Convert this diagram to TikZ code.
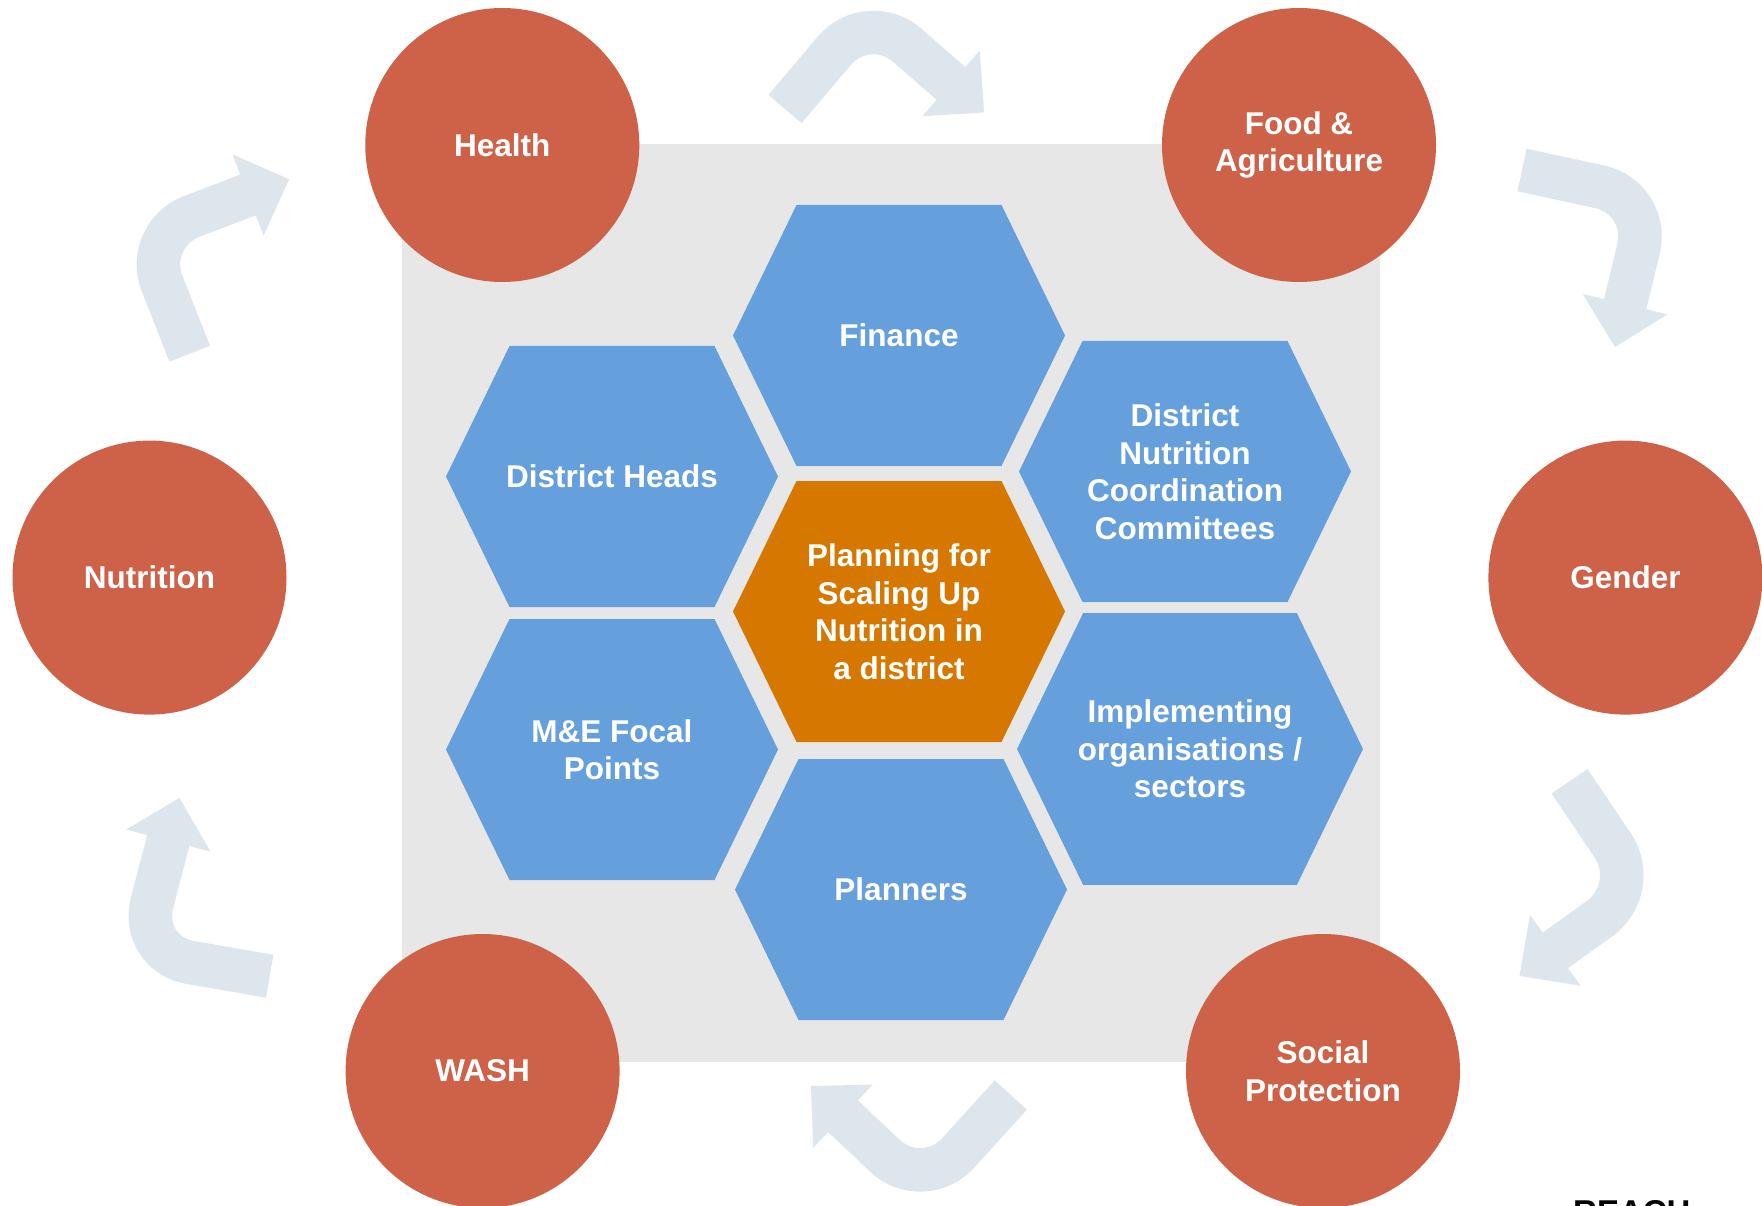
\documentclass[tikz,border=0pt]{standalone}
\usepackage{fontspec}
\setmainfont{Liberation Sans}
\usetikzlibrary{calc}
\definecolor{circred}{RGB}{205,98,72}
\definecolor{hexblue}{RGB}{102,160,220}
\definecolor{hexorange}{RGB}{214,120,0}
\definecolor{bggray}{RGB}{231,231,231}
\definecolor{arrowc}{RGB}{221,230,236}
\newcommand\lblfont{\fontsize{31.5}{37.5}\selectfont\bfseries}
\newcommand\bentarrow[3]{%
  \draw[band] (#1) -- (#2) -- ($(#3)!-2pt!(#2)$);
  \fill[arrowc] ($(#3)!43.5pt!90:(#2)$) -- ($(#3)!-44pt!(#2)$) -- ($(#3)!43.5pt!-90:(#2)$) -- cycle;
}
\begin{document}
\begin{tikzpicture}[x=1pt,y=-1pt,
  band/.style={draw=arrowc, line width=43.5pt, line cap=butt, rounded corners=52pt},
  circ/.style={circle, fill=circred, minimum size=274pt, inner sep=0pt, text=white, font=\lblfont, align=center},
  hextext/.style={text=white, font=\lblfont, align=center},
  hexa/.pic={\fill (-166,0) -- (-102.5,-130.5) -- (102.5,-130.5) -- (166,0) -- (102.5,130.5) -- (-102.5,130.5) -- cycle;}
]
\useasboundingbox (0,0) rectangle (1762,1206);
\fill[white] (0,0) rectangle (1762,1206);
% background panel
\fill[bggray] (402,144) rectangle (1380,1062);

% cycle arrows
\coordinate (a1t) at (785,109);   \coordinate (a1c) at (868,11);     \coordinate (a1e) at (951,83.5);
\coordinate (a2t) at (1522,170);  \coordinate (a2c) at (1650.7,197.9); \coordinate (a2e) at (1625.2,304.2);
\coordinate (a3t) at (1569.5,781.3); \coordinate (a3c) at (1641.8,888.5); \coordinate (a3e) at (1555.3,950.3);
\coordinate (a4t) at (1010.8,1095); \coordinate (a4c) at (923,1191.6); \coordinate (a4e) at (843,1116.2);
\coordinate (a5t) at (269.7,976.2); \coordinate (a5c) at (138.8,953.6); \coordinate (a5e) at (168.3,840.5);
\coordinate (a6t) at (189.7,353.7); \coordinate (a6c) at (143,235); \coordinate (a6e) at (248,195);
\bentarrow{a1t}{a1c}{a1e}
\bentarrow{a2t}{a2c}{a2e}
\bentarrow{a3t}{a3c}{a3e}
\bentarrow{a4t}{a4c}{a4e}
\bentarrow{a5t}{a5c}{a5e}
\bentarrow{a6t}{a6c}{a6e}

% hexagons
\pic[fill=hexblue] at (899,335.5) {hexa};
\pic[fill=hexblue] at (612,476.5) {hexa};
\pic[fill=hexblue] at (612,749.5) {hexa};
\pic[fill=hexorange] at (899,611.5) {hexa};
\pic[fill=hexblue] at (901,889.5) {hexa};
\pic[fill=hexblue] at (1185,471.5) {hexa};
\pic[fill=hexblue, scale=1.042] at (1190,749) {hexa};

\node[hextext] (fin) at (899,335.5) {Finance};
\node[hextext] (heads) at (612,476.5) {District Heads};
\node[hextext] (me) at (612,749.5) {M\&E Focal\\Points};
\node[hextext] (plan) at (899,611.5) {Planning for\\Scaling Up\\Nutrition in\\a district};
\node[hextext] (planners) at (901,889.5) {Planners};
\node[hextext] (dncc) at (1185,471.5) {District\\Nutrition\\Coordination\\Committees};
\node[hextext] (impl) at (1190,749) {Implementing\\organisations /\\sectors};

% sector circles
\node[circ] (health) at (502.3,145) {Health};
\node[circ] (food) at (1299,145) {Food \&\\Agriculture};
\node[circ] (nutr) at (149.5,577.6) {Nutrition};
\node[circ] (gender) at (1625.4,577.6) {Gender};
\node[circ] (wash) at (482.6,1071) {WASH};
\node[circ] (social) at (1323,1071) {Social\\Protection};

\node[anchor=north west, inner sep=0pt, font=\fontsize{33}{38}\selectfont\bfseries] (reach) at (1573,1200) {REACH};
\end{tikzpicture}
\end{document}
